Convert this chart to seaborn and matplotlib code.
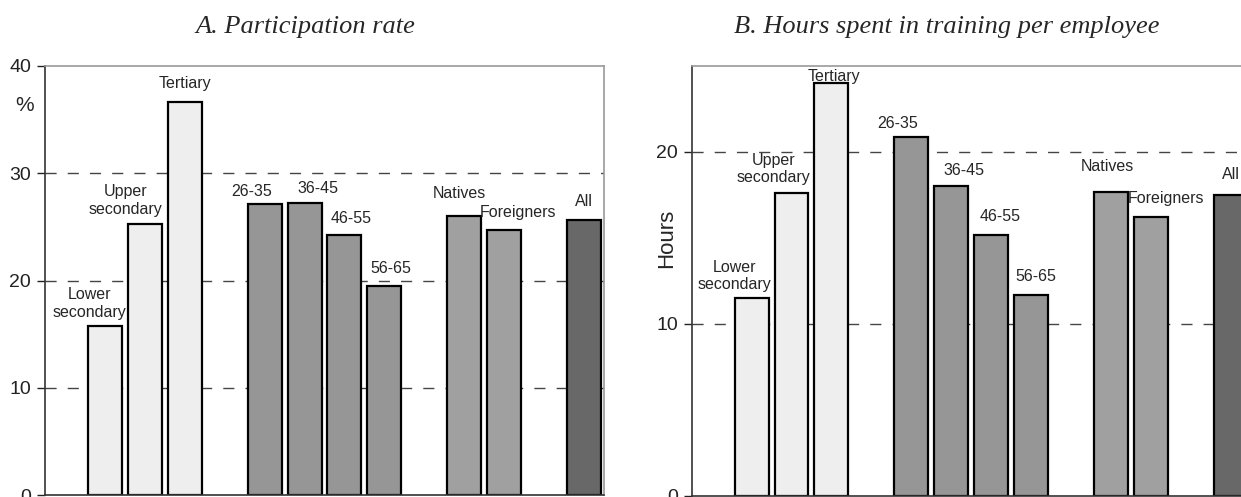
import numpy as np
import pandas as pd
import matplotlib
matplotlib.use("Agg")
import matplotlib.pyplot as plt
import seaborn as sns

# datos
categorias = ["Lower\nsecondary", "Upper\nsecondary", "Tertiary",
              "26-35", "36-45", "46-55", "56-65",
              "Natives", "Foreigners", "All"]
grupos = ["educ", "educ", "educ", "edad", "edad", "edad", "edad",
          "origen", "origen", "total"]
posiciones = [0, 1, 2, 4, 5, 6, 7, 9, 10, 12]
tasa_participacion = [15.8, 25.3, 36.6, 27.1, 27.2, 24.2, 19.5, 26.0, 24.7, 25.6]
horas_empleado = [11.5, 17.6, 24.0, 20.9, 18.0, 15.2, 11.7, 17.7, 16.2, 17.5]

# desplazamientos de etiquetas (pixeles, respecto al tope de la barra)
offs_a = [(-15, 22), (-19, 23), (0, 19), (-13, 13), (13, 15), (7, 17),
          (6, 17), (-5, 23), (14, 18), (0, 19)]
offs_b = [(-17, 22), (-18, 24), (2, 7), (-14, 13), (13, 16), (9, 18),
          (5, 18), (-4, 25), (15, 19), (0, 20)]

colores = {"educ": "#eeeeee", "edad": "#969696", "origen": "#a0a0a0",
           "total": "#686868"}

sns.set_style("white")
plt.rcParams["font.family"] = ["Liberation Sans", "DejaVu Sans"]

fig = plt.figure(figsize=(12.41, 4.97), dpi=100)
ax_a = fig.add_axes([45 / 1241, 2 / 497, 559 / 1241, 429 / 497])
ax_b = fig.add_axes([691.7 / 1241, 1.1 / 497, 559 / 1241, 429.9 / 497])


def panel(ax, valores, offs, ylim, ticks):
    df = pd.DataFrame({"pos": posiciones, "valor": valores, "grupo": grupos})
    # lineas guia (sin la del borde superior)
    for y in ticks[1:]:
        if y < ylim[1]:
            ax.axhline(y, color="#444444", lw=1, ls=(0, (8, 8)), zorder=0)
    sns.barplot(data=df, x="pos", y="valor", hue="grupo", palette=colores,
                native_scale=True, dodge=False, width=0.85, legend=False,
                edgecolor="black", linewidth=1.6, saturation=1, ax=ax,
                zorder=2)
    for x, v, lab, (dx, dy) in zip(posiciones, valores, categorias, offs):
        ax.annotate(lab, (x, v), xytext=(dx, dy), textcoords="offset pixels",
                    ha="center", va="center", fontsize=11.5,
                    linespacing=1.2, zorder=3)
    ax.set_xlim(-1.5, 12.5)
    ax.set_ylim(*ylim)
    ax.set_yticks(ticks)
    ax.set_xticks([])
    ax.set_xlabel("")
    ax.tick_params(axis="y", left=True, length=6, width=1, pad=4,
                   labelsize=14, colors="#222222")
    ax.spines["left"].set_color("#333333")
    ax.spines["bottom"].set_color("#333333")
    for s in ["top", "right"]:
        ax.spines[s].set_color("#999999")
    for s in ax.spines.values():
        s.set_linewidth(1.2)


panel(ax_a, tasa_participacion, offs_a, (0, 40), [0, 10, 20, 30, 40])
ax_a.set_ylabel("%", rotation=0, fontsize=15, ha="center", va="center")
ax_a.yaxis.set_label_coords(-0.036, 0.907)

panel(ax_b, horas_empleado, offs_b, (0, 25), [0, 10, 20])
ax_b.set_ylabel("Hours", fontsize=16, va="center", ha="center")
ax_b.yaxis.set_label_coords(-0.045, 0.6)

fig.text(305 / 1241, 1 - 27 / 497, "A. Participation rate", ha="center",
         va="center", fontsize=19, style="italic",
         family=["Liberation Serif", "DejaVu Serif"])
fig.text(947 / 1241, 1 - 27 / 497, "B. Hours spent in training per employee",
         ha="center", va="center", fontsize=19, style="italic",
         family=["Liberation Serif", "DejaVu Serif"])

fig.savefig("out.png", dpi=100)
